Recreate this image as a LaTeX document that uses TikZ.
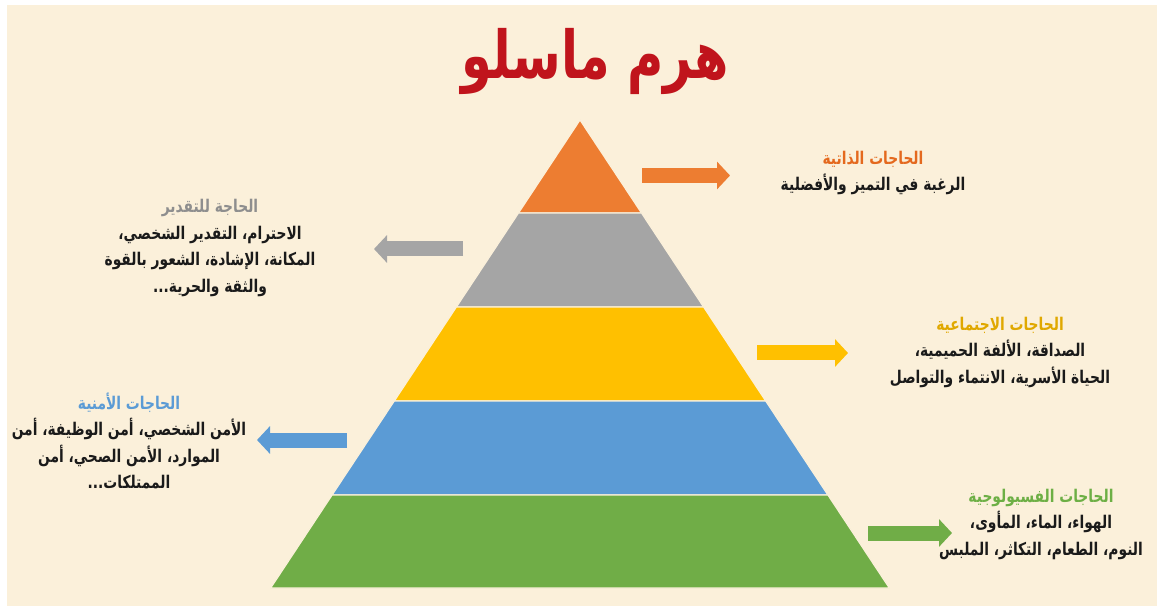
\documentclass[tikz,border=0pt]{standalone}
\usepackage{fontspec}
\usepackage{graphicx}
\usetikzlibrary{arrows.meta}
\TeXXeTstate=1
\newfontfamily\arabicfont[Script=Arabic]{DejaVu Sans}
\newcommand\ar[1]{\scalebox{0.79}[1]{\beginR #1\endR}}
\definecolor{bgcream}{HTML}{FBF0DA}
\definecolor{porange}{HTML}{ED7D31}
\definecolor{pgray}{HTML}{A5A5A5}
\definecolor{pyellow}{HTML}{FFC000}
\definecolor{pblue}{HTML}{5B9BD5}
\definecolor{pgreen}{HTML}{70AD47}
\definecolor{titlered}{HTML}{C0141C}
\definecolor{horange}{HTML}{E4691E}
\definecolor{hgray}{HTML}{8E8E8E}
\definecolor{hyellow}{HTML}{E0A800}
\definecolor{hblue}{HTML}{5B9BD5}
\definecolor{hgreen}{HTML}{6DAF45}
\definecolor{bodytext}{HTML}{1A1A1A}
\tikzset{
  band/.style={fill=#1, draw=bgcream, line width=1.2pt, line join=miter},
  blockarrow/.style={draw=#1, line width=15pt, -{Triangle[length=13pt,width=27pt,fill=#1]}},
  infotext/.style={align=center, font=\arabicfont\bfseries\fontsize{17.5}{26.5}\selectfont, text=bodytext, inner sep=0pt},
}
\begin{document}
\begin{tikzpicture}[x=1pt,y=-1pt]
\useasboundingbox (0,0) rectangle (1157,612);
\fill[white] (0,0) rectangle (1157,612);
\fill[bgcream] (7,5) rectangle (1157,606);
% title
\node[font=\arabicfont\bfseries\fontsize{66}{68}\selectfont, text=titlered, inner sep=0pt] (title) at (595,61) {\scalebox{0.75}[1]{\beginR هرم ماسلو\endR}};
% pyramid bands
\path[band=porange] (580,120) -- (641.5,213) -- (518.5,213) -- cycle;
\path[band=pgray] (518.5,213) -- (641.5,213) -- (703.6,307) -- (456.4,307) -- cycle;
\path[band=pyellow] (456.4,307) -- (703.6,307) -- (765.7,401) -- (394.3,401) -- cycle;
\path[band=pblue] (394.3,401) -- (765.7,401) -- (827.9,495) -- (332.1,495) -- cycle;
\path[band=pgreen] (332.1,495) -- (827.9,495) -- (889.3,588) -- (270.7,588) -- cycle;
% arrow end points
\coordinate (oA) at (642,175.5); \coordinate (oB) at (730,175.5);
\coordinate (gA) at (463,249); \coordinate (gB) at (374,249);
\coordinate (yA) at (757,353); \coordinate (yB) at (848,353);
\coordinate (bA) at (347,440); \coordinate (bB) at (257,440);
\coordinate (nA) at (868,533); \coordinate (nB) at (952,533);
\draw[blockarrow=porange] (oA) -- (oB);
\draw[blockarrow=pgray] (gA) -- (gB);
\draw[blockarrow=pyellow] (yA) -- (yB);
\draw[blockarrow=pblue] (bA) -- (bB);
\draw[blockarrow=pgreen] (nA) -- (nB);
% texts
\node[infotext] (t1) at (873,173) {\textcolor{horange}{\ar{الحاجات الذاتية}}\\ \ar{الرغبة في التميز والأفضلية}};
\node[infotext] (t2) at (210,248) {\textcolor{hgray}{\ar{الحاجة للتقدير}}\\ \ar{الاحترام، التقدير الشخصي،}\\ \ar{المكانة، الإشادة، الشعور بالقوة}\\ \ar{والثقة والحرية...}};
\node[infotext] (t3) at (1000,352) {\textcolor{hyellow}{\ar{الحاجات الاجتماعية}}\\ \ar{الصداقة، الألفة الحميمية،}\\ \ar{الحياة الأسرية، الانتماء والتواصل}};
\node[infotext] (t4) at (129,441) {\textcolor{hblue}{\ar{الحاجات الأمنية}}\\ \ar{الأمن الشخصي، أمن الوظيفة، أمن}\\ \ar{الموارد، الأمن الصحي، أمن}\\ \ar{الممتلكات...}};
\node[infotext] (t5) at (1041,524) {\textcolor{hgreen}{\ar{الحاجات الفسيولوجية}}\\ \ar{الهواء، الماء، المأوى،}\\ \ar{النوم، الطعام، التكاثر، الملبس}};
\end{tikzpicture}
\end{document}
